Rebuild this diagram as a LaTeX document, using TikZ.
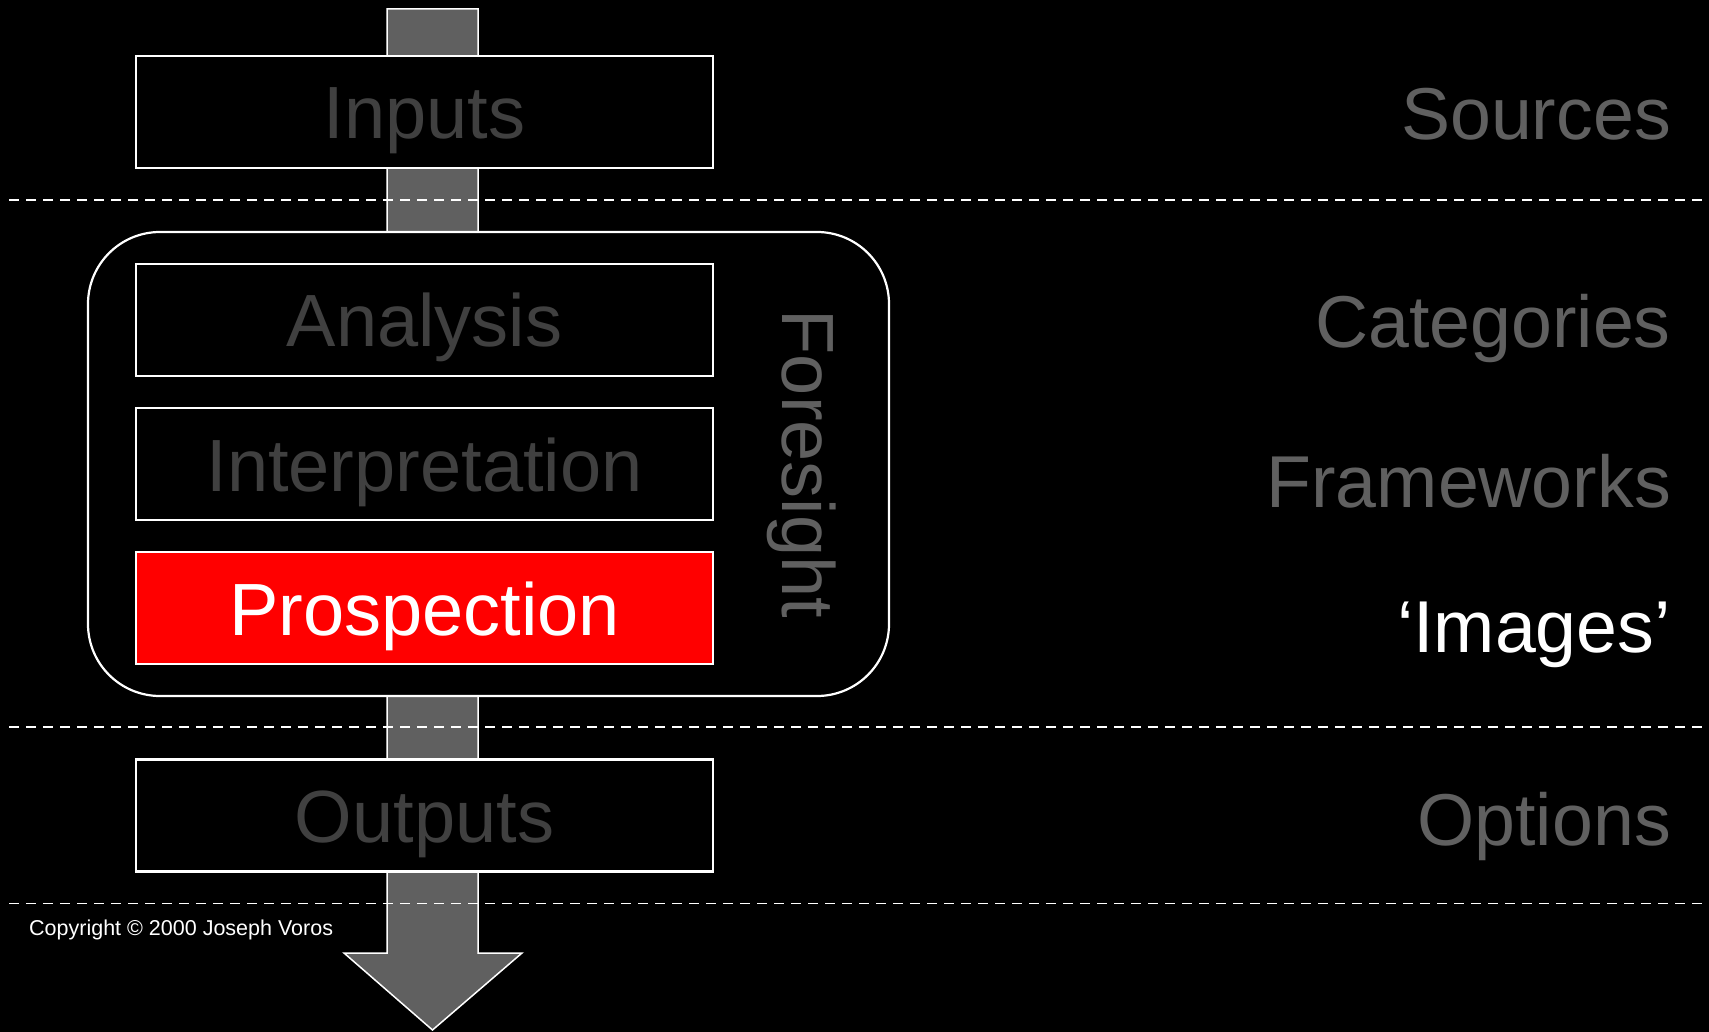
\documentclass[tikz,border=0pt]{standalone}
\usepackage{fontspec}
\setmainfont{Liberation Sans}
\definecolor{shaftgrey}{HTML}{606060}
\definecolor{dimtext}{HTML}{404040}
\definecolor{labtext}{HTML}{606060}
\definecolor{prored}{HTML}{FF0000}
\begin{document}
\begin{tikzpicture}[x=1pt,y=-1pt,
  stagebox/.style={draw=white, line width=2.2pt, fill=black, minimum width=577pt,
    minimum height=112pt, inner sep=0pt, text height=54pt, text depth=0pt,
    font=\fontsize{74}{74}\selectfont, text=dimtext},
  sidelabel/.style={anchor=base east, inner sep=0pt,
    font=\fontsize{73.5}{74}\selectfont, text=labtext},
  divider/.style={draw=white, line width=1.9pt, dash pattern=on 10pt off 7pt},
  shaftstyle/.style={fill=shaftgrey, draw=white, line width=1.5pt, line join=miter},
]
\fill[black] (0,0) rectangle (1709,1032);
\useasboundingbox (0,0) rectangle (1709,1032);

% main flow arrow
\coordinate (top) at (432.5,9);
\coordinate (tip) at (432.5,1030);
\draw[shaftstyle] (387,9) -- (478,9) -- (478,953) -- (522,953) -- (tip)
  -- (344,953) -- (387,953) -- cycle;

% dividers
\coordinate (d1a) at (9,200);   \coordinate (d1b) at (1709,200);
\coordinate (d2a) at (9,727);   \coordinate (d2b) at (1709,727);
\coordinate (d3a) at (9,903.5); \coordinate (d3b) at (1709,903.5);
\draw[divider] (d1a) -- (d1b);
\draw[divider] (d2a) -- (d2b);
\draw[divider] (d3a) -- (d3b);

% foresight container
\node[draw=white, line width=2.2pt, fill=black, rounded corners=72pt,
  minimum width=801pt, minimum height=464pt, inner sep=0pt] (fore) at (488.5,464) {};
\node[rotate=-90, anchor=base, inner sep=0pt, text=labtext,
  font=\fontsize{74}{74}\selectfont] (forelab) at (782,464) {Foresight};

% stage boxes
\node[stagebox] (inputs) at (424.5,112) {Inputs};
\node[stagebox] (analysis) at (424.5,320) {Analysis};
\node[stagebox] (interp) at (424.5,464) {Interpretation};
\node[stagebox, fill=prored, text=white] (prosp) at (424.5,608) {Prospection};
\node[stagebox] (outputs) at (424.5,815.5) {Outputs};

% side labels
\node[sidelabel] (sources) at (1671,140) {Sources};
\node[sidelabel] (categories) at (1671,348) {Categories};
\node[sidelabel] (frameworks) at (1671,507) {Frameworks};
\node[sidelabel, text=white] (images) at (1671,652) {‘Images’};
\node[sidelabel] (options) at (1671,845) {Options};

% copyright
\node[anchor=base west, inner sep=0pt, text=white,
  font=\fontsize{21.5}{22}\selectfont] (copyr) at (29,935) {Copyright © 2000 Joseph Voros};
\end{tikzpicture}
\end{document}
